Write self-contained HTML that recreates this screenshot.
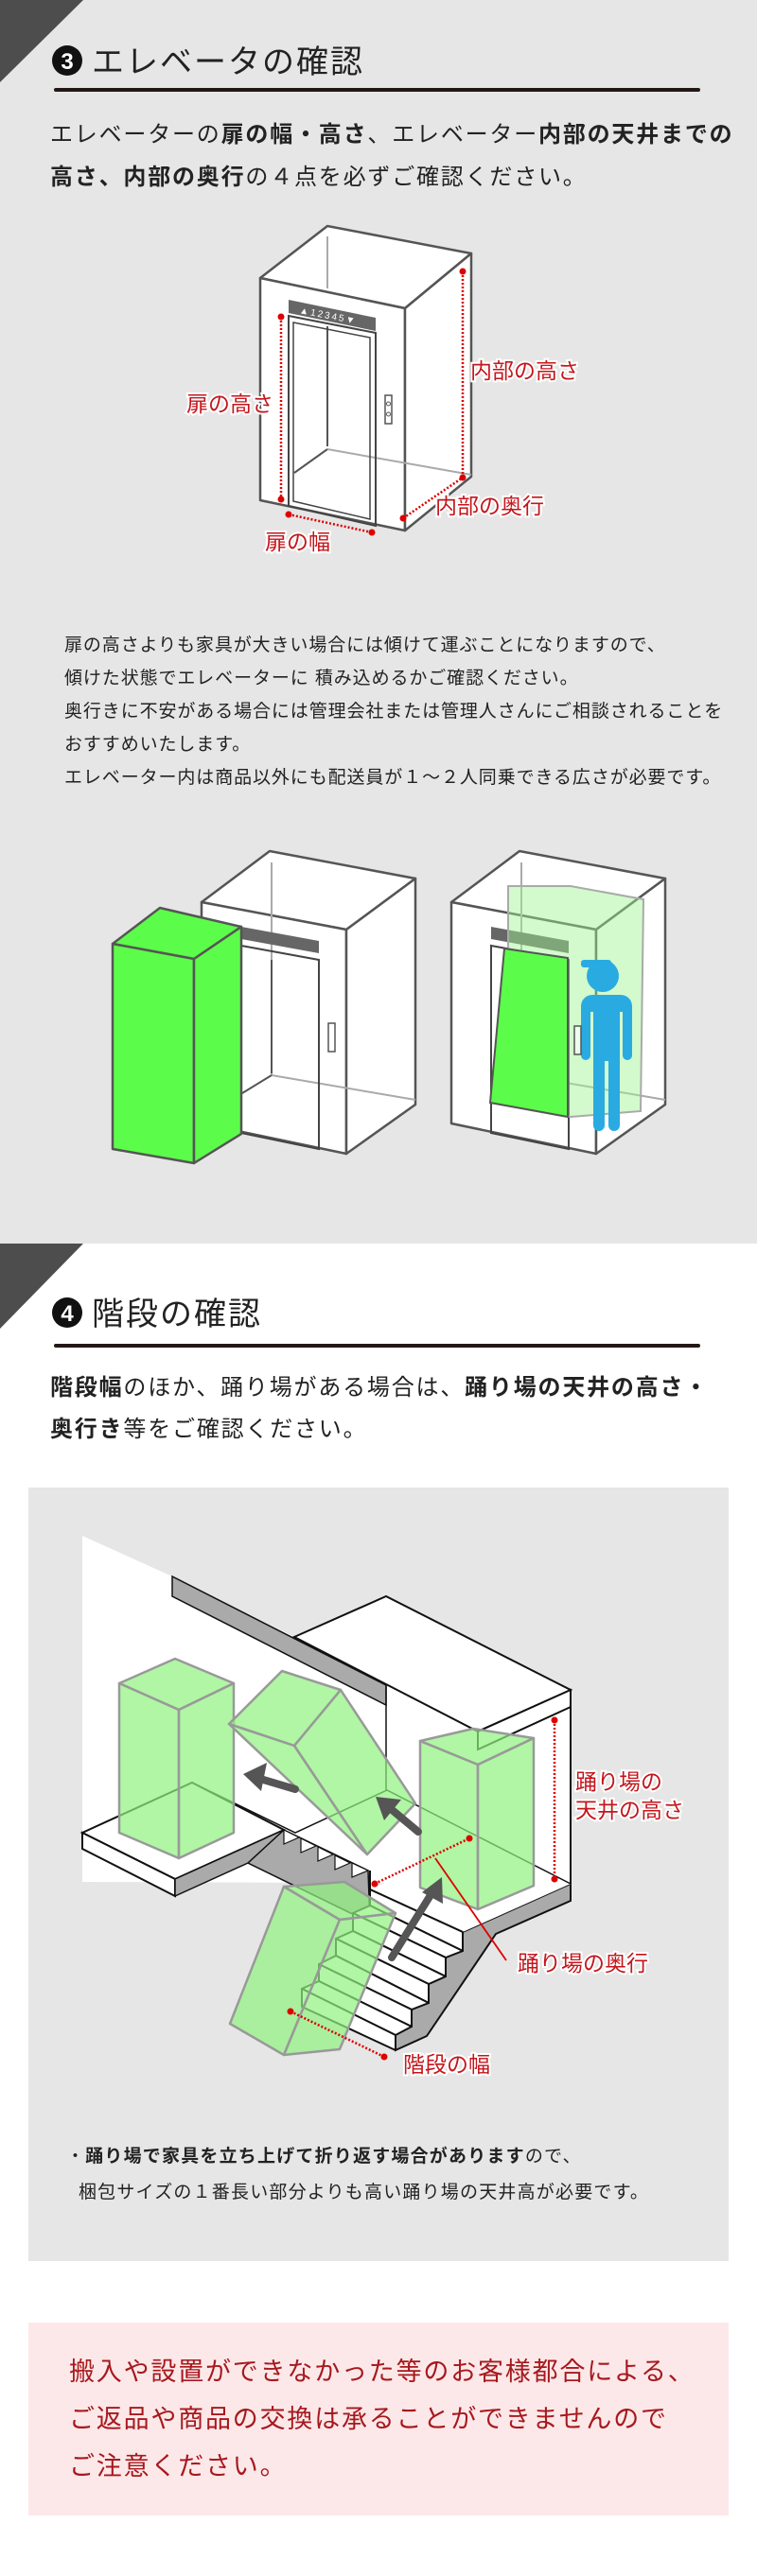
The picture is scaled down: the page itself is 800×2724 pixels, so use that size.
<!DOCTYPE html>
<html><head><meta charset="utf-8"><style>
html,body{margin:0;padding:0}
body{width:800px;height:2724px;position:relative;background:#fff;font-family:"Liberation Sans","Noto Sans CJK JP",sans-serif;color:#222;overflow:hidden}
.abs{position:absolute;white-space:nowrap}
b{font-weight:700}
</style></head><body>
<div class="abs" style="left:0;top:0;width:800px;height:1315px;background:#e6e6e6"></div>
<div class="abs" style="left:30px;top:1573px;width:740px;height:818px;background:#e6e6e6"></div>
<div class="abs" style="left:30px;top:2456px;width:740px;height:204px;background:#fde8e9"></div>

<svg class="abs" style="left:0;top:0" width="800" height="2724" viewBox="0 0 800 2724" font-family="Liberation Sans, Noto Sans CJK JP, sans-serif">
<polygon points="0,0 88,0 0,87" fill="#4d4d4d"/>
<polygon points="0,1315 88,1315 0,1405" fill="#4d4d4d"/>
<circle cx="71" cy="64" r="16" fill="#111"/><text x="71" y="73" font-size="24" fill="#fff" text-anchor="middle" font-weight="700">3</text>
<text x="97" y="77" font-size="34" fill="#222" letter-spacing="2">エレベータの確認</text>
<rect x="57" y="93" width="683" height="4" rx="2" fill="#231815"/>
<circle cx="71" cy="1388" r="16" fill="#111"/><text x="71" y="1397" font-size="24" fill="#fff" text-anchor="middle" font-weight="700">4</text>
<text x="97" y="1401" font-size="34" fill="#222" letter-spacing="2">階段の確認</text>
<rect x="57" y="1421" width="683" height="4" rx="2" fill="#231815"/>

<g stroke="#555" stroke-width="2.5" fill="#fff" stroke-linejoin="round">
<polygon points="275,294 346,239 498,268 428,326"/>
<polygon points="275,294 428,326 428,561 275,529"/>
<polygon points="428,326 498,268 498,504 428,561"/>
</g>
<line x1="346" y1="250" x2="346" y2="305" stroke="#aaa" stroke-width="2"/>
<line x1="346" y1="475" x2="498" y2="502" stroke="#aaa" stroke-width="2"/>
<line x1="346" y1="475" x2="311" y2="500" stroke="#555" stroke-width="2"/>
<line x1="346" y1="345" x2="346" y2="472" stroke="#555" stroke-width="2"/>
<polygon points="305,317 397,336 397,350 305,331" fill="#666"/>
<text x="316" y="331" font-size="10" fill="#fff" transform="rotate(11 316 331)" letter-spacing="2">▲12345▼</text>
<polygon points="305,334 397,352 397,556 305,535" fill="none" stroke="#444" stroke-width="2"/>
<polygon points="310,341 391,357 391,549 310,530" fill="none" stroke="#444" stroke-width="1.5"/>
<rect x="407" y="418" width="7" height="30" fill="#fff" stroke="#555" stroke-width="1.5"/>
<circle cx="410.5" cy="427" r="2" fill="none" stroke="#555"/><circle cx="410.5" cy="438" r="2" fill="none" stroke="#555"/>
<g stroke="#d00" stroke-width="2.5" stroke-dasharray="2 2" fill="none">
<line x1="297" y1="335" x2="297" y2="528"/><line x1="489" y1="287" x2="489" y2="505"/>
<line x1="426" y1="548" x2="489" y2="505"/><line x1="305" y1="544" x2="393" y2="563"/>
</g>
<g fill="#d00"><circle cx="297" cy="335" r="3.5"/><circle cx="297" cy="528" r="3.5"/><circle cx="489" cy="287" r="3.5"/><circle cx="489" cy="505" r="3.5"/><circle cx="426" cy="548" r="3.5"/><circle cx="305" cy="544" r="3.5"/><circle cx="393" cy="563" r="3.5"/></g>
<g font-size="23" fill="#c4161c" stroke="#fff" stroke-width="4" paint-order="stroke">
<text x="197" y="435">扉の高さ</text><text x="497" y="400">内部の高さ</text>
<text x="460" y="543">内部の奥行</text><text x="280" y="581">扉の幅</text>
</g>

<g stroke="#555" stroke-width="2.5" fill="#fff" stroke-linejoin="round">
<polygon points="213,954 285,900 439,929 366,983"/>
<polygon points="213,954 366,983 366,1220 213,1188"/>
<polygon points="366,983 439,929 439,1168 366,1220"/>
</g>
<line x1="287" y1="912" x2="287" y2="1137" stroke="#aaa" stroke-width="2"/>
<line x1="287" y1="1137" x2="439" y2="1163" stroke="#aaa" stroke-width="2"/>
<line x1="287" y1="1137" x2="256" y2="1156" stroke="#555" stroke-width="2"/>
<line x1="287" y1="1015" x2="287" y2="1135" stroke="#555" stroke-width="2"/>
<polygon points="255,980 337,995 337,1008 255,993" fill="#666"/>
<polygon points="255,1000 337,1015 337,1215 255,1198" fill="none" stroke="#444" stroke-width="2"/>
<rect x="347" y="1082" width="7" height="30" fill="#fff" stroke="#555" stroke-width="1.5"/>
<g stroke="#555" stroke-width="2.5" fill="#5cfc4a" stroke-linejoin="round">
<polygon points="119,998 169,960 255,980 205,1014"/>
<polygon points="119,998 205,1014 205,1230 119,1215"/>
<polygon points="205,1014 255,980 255,1199 205,1230"/>
</g>
<g stroke="#555" stroke-width="2.5" fill="#fff" stroke-linejoin="round">
<polygon points="477,954 549,900 703,929 630,983"/>
<polygon points="477,954 630,983 630,1220 477,1188"/>
<polygon points="630,983 703,929 703,1168 630,1220"/>
</g>
<line x1="551" y1="912" x2="551" y2="1137" stroke="#aaa" stroke-width="2"/>
<line x1="551" y1="1137" x2="703" y2="1163" stroke="#aaa" stroke-width="2"/>
<polygon points="519,980 601,995 601,1008 519,993" fill="#666"/>
<polygon points="519,1000 601,1015 601,1215 519,1198" fill="none" stroke="#444" stroke-width="2"/>
<polygon points="537,937 603,937 680,951 677,1175 603,1181 537,1166" fill="#9ef58f" fill-opacity="0.45" stroke="#aaa" stroke-width="2"/>
<polygon points="533,1003 600,1013 600,1181 518,1166" fill="#5cfc4a" stroke="#555" stroke-width="2"/>
<g fill="#29abe2">
<circle cx="637" cy="1032" r="17"/><rect x="614" y="1015" width="32" height="8" rx="3"/>
<path d="M618,1052 h38 a12,12 0 0 1 12,12 v52 a5,5 0 0 1 -10,0 v-46 h-3 v120 a6,6 0 0 1 -12,0 v-68 h-4 v68 a6,6 0 0 1 -12,0 v-120 h-3 v46 a5,5 0 0 1 -10,0 v-52 a12,12 0 0 1 12,-12z"/>
</g>
<rect x="607" y="1085" width="7" height="30" fill="#fff" fill-opacity="0.6" stroke="#555" stroke-width="1.5"/>

<polygon points="87,1624 182,1667 311,1731 408,1688 603,1787 603,1992 87,1990" fill="#fff"/>
<polygon points="311,1731 408,1688 603,1787 505,1831" fill="#fff" stroke="#111" stroke-width="2"/>
<polygon points="505,1831 603,1787 603,1805 505,1850" fill="#fff" stroke="#111" stroke-width="2"/>
<polygon points="182,1667 182,1688 408,1803 408,1782" fill="#aaa" stroke="#111" stroke-width="1.5"/>
<line x1="408" y1="1782" x2="408" y2="1893" stroke="#111" stroke-width="1.5"/>
<line x1="603" y1="1787" x2="603" y2="1992" stroke="#111" stroke-width="2"/>
<polyline points="203,1885 312,1938 409,1893 603,1992" fill="none" stroke="#111" stroke-width="1.5"/>
<polygon points="262,1970 300,1935 389,1978 391,2033" fill="#aaa" stroke="#111" stroke-width="1.5"/>
<g fill="#fff" stroke="#111" stroke-width="1.2">
<polygon points="300,1935 300,1950 316,1943"/><polygon points="318,1944 318,1959 334,1952"/><polygon points="336,1953 336,1968 352,1961"/><polygon points="354,1962 354,1977 370,1970"/><polygon points="372,1970 372,1985 389,1978"/>
</g>
<polygon points="87,1938 203,1885 300,1935 185,1987" fill="#fff" stroke="#111" stroke-width="2"/>
<polygon points="87,1938 185,1987 185,2005 87,1955" fill="#fff" stroke="#111" stroke-width="2"/>
<polygon points="185,1987 300,1935 262,1970 185,2005" fill="#aaa" stroke="#111" stroke-width="1.5"/>
<polygon points="489,2043 603,1992 603,2010 524,2045 451,2153 418,2168 418,2150 435,2143 435,2125 453,2118 453,2098 471,2090 471,2070 489,2063" fill="#aaa" stroke="#111" stroke-width="2"/>
<polygon points="391,1998 409,1990 603,1992 489,2043" fill="#fff" stroke="none"/>
<line x1="391" y1="1998" x2="489" y2="2043" stroke="#111" stroke-width="2"/>
<line x1="391" y1="1978" x2="391" y2="2015" stroke="#111" stroke-width="2"/>
<g fill="#fff" stroke="#111" stroke-width="2" stroke-linejoin="round">
<polygon points="391,1998 489,2043 489,2063 391,2015"/>
<polygon points="391,2015 489,2063 471,2070 373,2023"/>
<polygon points="373,2023 471,2070 471,2090 373,2042"/>
<polygon points="373,2042 471,2090 453,2098 355,2050"/>
<polygon points="355,2050 453,2098 453,2118 355,2068"/>
<polygon points="355,2068 453,2118 435,2125 337,2077"/>
<polygon points="337,2077 435,2125 435,2143 337,2095"/>
<polygon points="337,2095 435,2143 418,2152 319,2103"/>
<polygon points="319,2103 418,2152 418,2168 319,2122"/>
</g>
<g fill="#8ef27e" fill-opacity="0.7" stroke="#999" stroke-width="2.5" stroke-linejoin="round">
<polygon points="126,1780 185,1754 247,1780 189,1808"/>
<polygon points="126,1780 189,1808 189,1965 126,1938"/>
<polygon points="189,1808 247,1780 247,1938 189,1965"/>
<polygon points="242,1823 298,1767 360,1787 311,1846"/>
<polygon points="311,1846 360,1787 439,1907 388,1961"/>
<polygon points="242,1823 311,1846 388,1961"/>
<polygon points="444,1841 500,1828 564,1838 505,1866"/>
<polygon points="444,1841 505,1866 505,2019 444,1996"/>
<polygon points="505,1866 564,1838 564,1994 505,2019"/>
<polygon points="300,1995 364,1990 418,2023 359,2030"/>
<polygon points="300,1995 359,2030 300,2173 243,2140"/>
<polygon points="359,2030 418,2023 359,2167 300,2173"/>
</g>
<g stroke="#555" stroke-width="8" stroke-linecap="round" fill="#555">
<line x1="312" y1="1892" x2="275" y2="1881"/><line x1="442" y1="1937" x2="412" y2="1912"/><line x1="414" y1="2070" x2="455" y2="2004"/>
</g>
<g fill="#555">
<polygon points="257,1876 282,1864 276,1894"/>
<polygon points="397,1900 424,1903 406,1925"/>
<polygon points="467,1985 468,2013 446,2001"/>
</g>
<g stroke="#d00" stroke-width="2.5" stroke-dasharray="2 2" fill="none">
<line x1="586" y1="1819" x2="586" y2="1987"/><line x1="396" y1="1992" x2="496" y2="1944"/><line x1="307" y1="2127" x2="406" y2="2175"/>
</g>
<line x1="460" y1="1965" x2="535" y2="2073" stroke="#d00" stroke-width="1.8"/>
<g fill="#d00"><circle cx="586" cy="1819" r="3.5"/><circle cx="586" cy="1987" r="3.5"/><circle cx="396" cy="1992" r="3.5"/><circle cx="496" cy="1944" r="3.5"/><circle cx="307" cy="2127" r="3.5"/><circle cx="406" cy="2175" r="3.5"/></g>
<g font-size="23" fill="#c4161c" stroke="#fff" stroke-width="4" paint-order="stroke">
<text x="608" y="1892">踊り場の</text><text x="608" y="1922">天井の高さ</text>
<text x="547" y="2084">踊り場の奥行</text><text x="426" y="2191">階段の幅</text>
</g>
</svg>

<div class="abs" style="left:53px;top:120px;font-size:24px;line-height:45px;letter-spacing:1.8px">エレベーターの<b>扉の幅・高さ</b>、エレベーター<b>内部の天井までの</b><br><b>高さ、内部の奥行</b>の４点を必ずご確認ください。</div>
<div class="abs" style="left:68px;top:665px;font-size:19px;line-height:35px;letter-spacing:0.9px">扉の高さよりも家具が大きい場合には傾けて運ぶことになりますので、<br>傾けた状態でエレベーターに 積み込めるかご確認ください。<br>奥行きに不安がある場合には管理会社または管理人さんにご相談されることを<br>おすすめいたします。<br>エレベーター内は商品以外にも配送員が１～２人同乗できる広さが必要です。</div>
<div class="abs" style="left:53px;top:1446px;font-size:24px;line-height:44px;letter-spacing:1.8px"><b>階段幅</b>のほか、踊り場がある場合は、<b>踊り場の天井の高さ・</b><br><b>奥行き</b>等をご確認ください。</div>
<div class="abs" style="left:70px;top:2262px;font-size:19px;line-height:38px;letter-spacing:1.2px">・<b>踊り場で家具を立ち上げて折り返す場合があります</b>ので、<br>&nbsp;&nbsp;梱包サイズの１番長い部分よりも高い踊り場の天井高が必要です。</div>
<div class="abs" style="left:73px;top:2483px;font-size:27px;line-height:50px;letter-spacing:1.8px;color:#a6191e">搬入や設置ができなかった等のお客様都合による、<br>ご返品や商品の交換は承ることができませんので<br>ご注意ください。</div>
</body></html>
